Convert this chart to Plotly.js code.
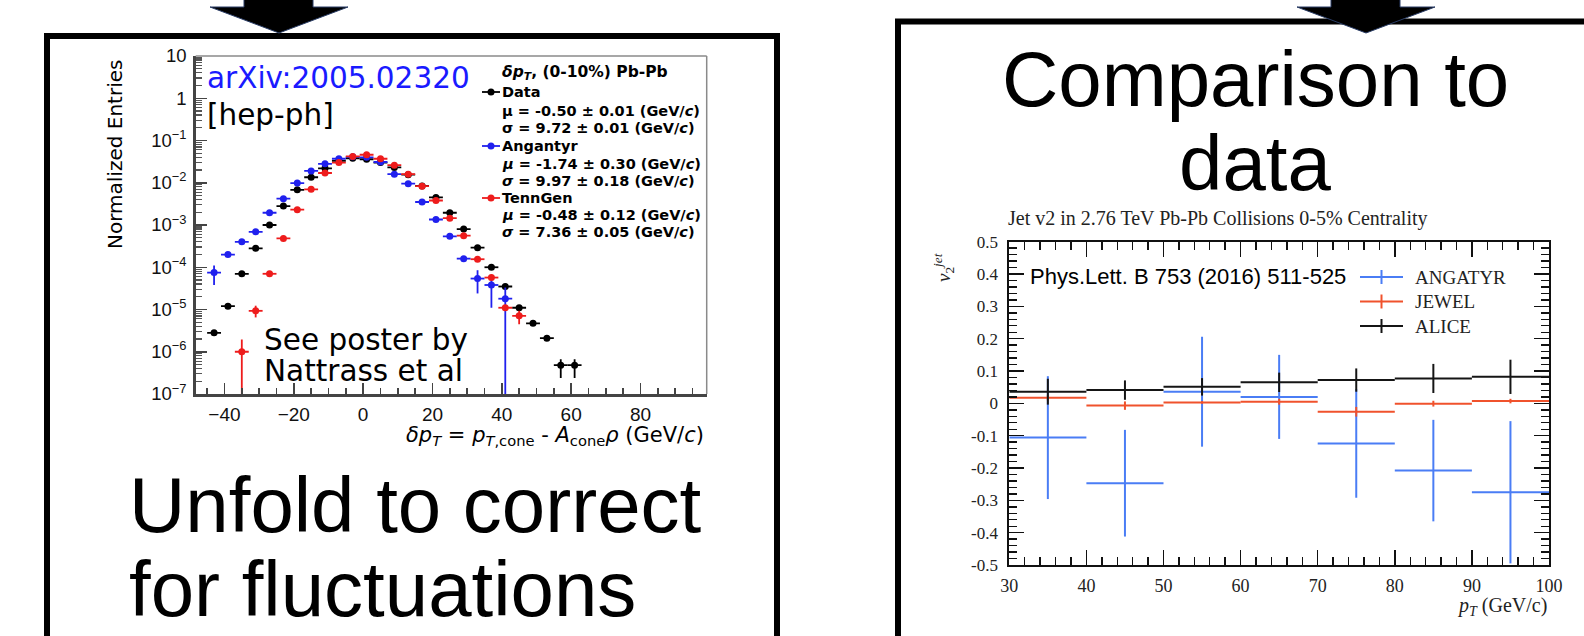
<!DOCTYPE html>
<html><head><meta charset="utf-8">
<script src="https://cdn.plot.ly/plotly-3.0.1.min.js"></script>
<style>html,body{margin:0;padding:0;background:#fff;}#chart{width:1584px;height:636px;}</style>
</head><body><div id="chart"></div>
<script>
// ---------- Left panel: delta pT distributions (bin centres, GeV/c) ----------
const dataX = [-43,-39,-35,-31,-27,-23,-19,-15,-11,-7,-3,1,5,9,13,17,21,25,29,33,37,41,45,49,53,57,61];
const dataY = [2.8e-6,1.2e-5,7.0e-5,2.8e-4,1.0e-3,2.8e-3,6.8e-3,1.35e-2,2.2e-2,3.3e-2,3.8e-2,3.6e-2,3.0e-2,2.3e-2,1.55e-2,8.4e-3,4.5e-3,1.95e-3,8.0e-4,2.9e-4,1.0e-4,3.5e-5,1.1e-5,4.7e-6,2.1e-6,4.8e-7,4.8e-7];
const dataErrUp = [3e-7,1.5e-6,0,0,0,0,0,0,0,0,0,0,0,0,0,0,0,0,0,0,0,0,0,0,0,1.8e-7,1.8e-7];
const dataErrDn = [3e-7,1.5e-6,0,0,0,0,0,0,0,0,0,0,0,0,0,0,0,0,0,0,0,0,0,0,0,2.4e-7,2.4e-7];

const angX = [-43,-39,-35,-31,-27,-23,-19,-15,-11,-7,-3,1,5,9,13,17,21,25,29,33,37,41];
const angY = [7.5e-5,2.0e-4,4.0e-4,6.9e-4,1.95e-3,4.2e-3,9.8e-3,1.9e-2,2.8e-2,3.7e-2,4.1e-2,4.0e-2,3.1e-2,1.6e-2,9.5e-3,3.5e-3,1.35e-3,5.4e-4,1.6e-4,5.4e-5,3.8e-5,1.8e-5];
const angErrUp = [3.5e-5,2.0e-5,0,0,0,0,0,0,0,0,0,0,0,0,0,0,0,0,1.5e-5,3.1e-5,2.0e-5,1.5e-5];
const angErrDn = [3.7e-5,1.8e-5,0,0,0,0,0,0,0,0,0,0,0,0,0,0,0,0,1.3e-5,3.0e-5,2.7e-5,1.8e-5];

const tenX = [-35,-31,-27,-23,-19,-15,-11,-7,-3,1,5,9,13,17,21,25,29,33,37,41,45];
const tenY = [1.0e-6,9.3e-6,7.0e-5,4.8e-4,2.3e-3,7.0e-3,1.7e-2,3.0e-2,4.2e-2,4.6e-2,3.7e-2,2.6e-2,1.6e-2,8.3e-3,3.8e-3,1.45e-3,5.6e-4,1.55e-4,5.7e-5,1.1e-5,7.1e-6];
const tenErrUp = [9.5e-7,3.0e-6,0,0,0,0,0,0,0,0,0,0,0,0,0,0,0,0,0,0,2.2e-6];
const tenErrDn = [1.0e-6,2.8e-6,0,0,0,0,0,0,0,0,0,0,0,0,0,0,0,0,0,0,2.6e-6];

const leftXTicks = [-40,-20,0,20,40,60,80];
const leftXTickText = ['\u221240','\u221220','0','20','40','60','80'];
const leftYTicks = [1e-7,1e-6,1e-5,1e-4,1e-3,1e-2,1e-1,1,10];
const leftYTickText = ['10<sup>\u22127</sup>','10<sup>\u22126</sup>','10<sup>\u22125</sup>','10<sup>\u22124</sup>','10<sup>\u22123</sup>','10<sup>\u22122</sup>','10<sup>\u22121</sup>','1','10'];

// ---------- Right panel: jet v2 vs pT ----------
const ptCenters = [35,45,55,65,75,85,95];
const angatyrV2 = [-0.106,-0.247,0.036,0.020,-0.124,-0.208,-0.275];
const angatyrErr = [0.19,0.165,0.17,0.13,0.168,0.157,0.22];
const jewelV2 = [0.017,-0.007,0.003,0.005,-0.026,-0.001,0.007];
const jewelErr = [0.008,0.013,0.004,0.009,0.015,0.009,0.007];
const aliceV2 = [0.036,0.041,0.051,0.065,0.072,0.077,0.082];
const aliceErr = [0.040,0.030,0.027,0.030,0.036,0.045,0.053];

const rightXTicks = [30,40,50,60,70,80,90,100];
const rightXTickText = ['30','40','50','60','70','80','90','100'];
const rightYTicks = [-0.5,-0.4,-0.3,-0.2,-0.1,0,0.1,0.2,0.3,0.4,0.5];
const rightYTickText = ['-0.5','-0.4','-0.3','-0.2','-0.1','0','0.1','0.2','0.3','0.4','0.5'];

// ---------- geometry helpers (pixels of the 1584x636 canvas) ----------
const W = 1584, H = 636;
const px = v => v / W;
const py = v => 1 - v / H;

const SANS = 'Liberation Sans, Arial, sans-serif';
const WIDE = 'DejaVu Sans, Verdana, sans-serif';
const SERIF = 'Liberation Serif, Times New Roman, serif';

function rootSeries(x, y, up, dn, color) {
  return {
    type: 'scatter', mode: 'markers', x: x, y: y, xaxis: 'x', yaxis: 'y',
    marker: {color: color, size: 7},
    error_x: {type: 'constant', value: 2, width: 0, thickness: 1.8, color: color},
    error_y: {type: 'data', symmetric: false, array: up, arrayminus: dn, width: 0, thickness: 1.8, color: color},
    hoverinfo: 'x+y', cliponaxis: true
  };
}
function v2Series(y, err, color) {
  return {
    type: 'scatter', mode: 'markers', x: ptCenters, y: y, xaxis: 'x2', yaxis: 'y2',
    marker: {color: color, size: 0.1},
    error_x: {type: 'constant', value: 5, width: 0, thickness: 2, color: color},
    error_y: {type: 'data', array: err, width: 0, thickness: 2, color: color},
    hoverinfo: 'x+y'
  };
}

const BLUE_R = '#2020ee', RED_R = '#ee1c1c';
const BLUE_V = '#4a7df5', RED_V = '#f0522c', BLACK_V = '#151515';

const traces = [
  rootSeries(dataX, dataY, dataErrUp, dataErrDn, '#000000'),
  rootSeries(angX, angY, angErrUp, angErrDn, BLUE_R),
  rootSeries(tenX, tenY, tenErrUp, tenErrDn, RED_R),
  v2Series(angatyrV2, angatyrErr, BLUE_V),
  v2Series(jewelV2, jewelErr, RED_V),
  v2Series(aliceV2, aliceErr, BLACK_V),
  {type: 'scatter', x: [], y: [], xaxis: 'x3', yaxis: 'y3', hoverinfo: 'skip'}
];

// minor log ticks
const logMinor = [];
for (let e = -7; e < 1; e++) for (let k = 2; k <= 9; k++) logMinor.push(k * Math.pow(10, e));

const shapes = [];
const annotations = [];
function ann(x, y, text, size, opts) {
  annotations.push(Object.assign({
    xref: 'x3', yref: 'y3', x: x, y: y, text: text, showarrow: false,
    xanchor: 'left', yanchor: 'middle',
    font: {family: SANS, size: size, color: '#000'}
  }, opts || {}));
}
function line(x0, y0, x1, y1, color, w) {
  shapes.push({type: 'line', xref: 'x3', yref: 'y3', x0: x0, y0: y0, x1: x1, y1: y1, line: {color: color, width: w}});
}

// ---- slide boxes ----
shapes.push({type: 'rect', xref: 'x3', yref: 'y3', x0: 47, y0: 36, x1: 777, y1: 720, line: {color: '#000', width: 6}, fillcolor: 'rgba(0,0,0,0)'});
shapes.push({type: 'rect', xref: 'x3', yref: 'y3', x0: 898, y0: 21.5, x1: 1700, y1: 720, line: {color: '#000', width: 6}, fillcolor: 'rgba(0,0,0,0)'});
// ---- arrows ----
function arrow(cx) {
  const p = `M ${cx-35} -5 L ${cx+34} -5 L ${cx+34} 7 L ${cx+69} 7 L ${cx} 33 L ${cx-69} 7 L ${cx-35} 7 Z`;
  shapes.push({type: 'path', xref: 'x3', yref: 'y3', path: p, fillcolor: '#000', line: {color: '#2a3d66', width: 1}});
}
arrow(279);
arrow(1366);

// ---- left panel frame (top/right thin grey) ----
line(195.7, 56, 706.7, 56, '#8a8a8a', 1.5);
line(706.7, 56, 706.7, 394, '#8a8a8a', 1.5);

// ---- left panel texts ----
const wide = (s, c) => ({font: {family: WIDE, size: s, color: c || '#000'}});
ann(115, 155, 'Normalized Entries', 20, Object.assign({textangle: -90, xanchor: 'center'}, wide(20)));
ann(205, 78, 'arXiv:2005.02320', 29.5, wide(29.5, '#1a1aff'));
ann(205, 115, '[hep-ph]', 29.5, wide(29.5));
ann(262, 340, 'See poster by', 29.5, wide(29.5));
ann(262, 371, 'Nattrass et al', 29.5, wide(29.5));
ann(706, 436, '<i>δp</i><sub><i>T</i></sub> = <i>p</i><sub><i>T</i>,cone</sub> - <i>A</i><sub>cone</sub><i>ρ</i> (GeV/<i>c</i>)', 21, Object.assign({xanchor: 'right'}, wide(21)));

const LX = 500, LF = 14.5;
ann(LX, 73, '<b><i>δp</i><sub><i>T</i></sub>, (0-10%) Pb-Pb</b>', 15.5, wide(15.5));
ann(LX, 92, '<b>Data</b>', LF, wide(LF));
ann(LX, 111, '<b>μ = -0.50 ± 0.01 (GeV/<i>c</i>)</b>', LF, wide(LF));
ann(LX, 128, '<b>σ = 9.72 ± 0.01 (GeV/<i>c</i>)</b>', LF, wide(LF));
ann(LX, 146, '<b>Angantyr</b>', LF, wide(LF));
ann(LX, 164, '<b><i>μ</i> = -1.74 ± 0.30 (GeV/<i>c</i>)</b>', LF, wide(LF));
ann(LX, 181, '<b><i>σ</i> = 9.97 ± 0.18 (GeV/<i>c</i>)</b>', LF, wide(LF));
ann(LX, 198, '<b>TennGen</b>', LF, wide(LF));
ann(LX, 215, '<b><i>μ</i> = -0.48 ± 0.12 (GeV/<i>c</i>)</b>', LF, wide(LF));
ann(LX, 232, '<b><i>σ</i> = 7.36 ± 0.05 (GeV/<i>c</i>)</b>', LF, wide(LF));
[[92, '#000'], [146, BLUE_R], [198, RED_R]].forEach(([yy, c]) => {
  line(482, yy, 500, yy, c, 1.8);
  shapes.push({type: 'circle', xref: 'x3', yref: 'y3', x0: 487.5, x1: 494.5, y0: yy - 3.5, y1: yy + 3.5, fillcolor: c, line: {color: c, width: 0}});
});

// ---- big slide texts ----
ann(127, 505, 'Unfold to correct', 78);
ann(127, 589, 'for fluctuations', 78);
ann(1255, 79, 'Comparison to', 78, {xanchor: 'center'});
ann(1255, 163, 'data', 78, {xanchor: 'center'});

// ---- right panel texts ----
const serif = (s) => ({font: {family: SERIF, size: s, color: '#222'}});
ann(1006, 218, 'Jet v2 in 2.76 TeV Pb-Pb Collisions 0-5% Centrality', 20, serif(20));
ann(943, 268, '<i>v</i><sub>2</sub><sup><i>jet</i></sup>', 19, Object.assign({textangle: -90, xanchor: 'center'}, serif(19)));
ann(1549, 606, '<i>p</i><sub><i>T</i></sub> (GeV/c)', 20, Object.assign({xanchor: 'right'}, serif(20)));
ann(1028, 276, 'Phys.Lett. B 753 (2016) 511-525', 22);
[[277, 'ANGATYR', BLUE_V], [301.5, 'JEWEL', RED_V], [326, 'ALICE', BLACK_V]].forEach(([yy, t, c]) => {
  line(1360, yy, 1403, yy, c, 2);
  line(1381.5, yy - 7, 1381.5, yy + 7, c, 2);
  ann(1413, yy, t, 19, serif(19));
});

const layout = {
  width: W, height: H, margin: {l: 0, r: 0, t: 0, b: 0},
  paper_bgcolor: '#ffffff', plot_bgcolor: 'rgba(0,0,0,0)', showlegend: false,
  xaxis: {
    domain: [px(195.7), px(706.7)], range: [-48.3, 99.1], anchor: 'y',
    tickmode: 'array', tickvals: leftXTicks, ticktext: leftXTickText,
    ticks: 'inside', ticklen: 11, tickwidth: 1.5, tickcolor: '#444',
    minor: {tickmode: 'linear', tick0: 0, dtick: 5, ticks: 'inside', ticklen: 6, tickwidth: 1.5, tickcolor: '#444'},
    showline: true, linecolor: '#444', linewidth: 2.5, showgrid: false, zeroline: false,
    tickfont: {family: SANS, size: 19, color: '#111'}, ticklabelstandoff: 2, fixedrange: true
  },
  yaxis: {
    type: 'log', domain: [py(394), py(56)], range: [-7, 1], anchor: 'x',
    tickmode: 'array', tickvals: leftYTicks, ticktext: leftYTickText,
    ticks: 'inside', ticklen: 11, tickwidth: 1.5, tickcolor: '#444',
    minor: {tickmode: 'array', tickvals: logMinor, ticks: 'inside', ticklen: 6, tickwidth: 1.2, tickcolor: '#555'},
    showline: true, linecolor: '#444', linewidth: 2.5, showgrid: false, zeroline: false,
    tickfont: {family: SANS, size: 18.5, color: '#111'}, ticklabelstandoff: 3, fixedrange: true
  },
  xaxis2: {
    domain: [px(1009.3), px(1549)], range: [30, 100], anchor: 'y2',
    tickmode: 'array', tickvals: rightXTicks, ticktext: rightXTickText,
    ticks: 'inside', ticklen: 15, tickwidth: 1.6, tickcolor: '#111',
    minor: {tickmode: 'linear', tick0: 30, dtick: 2, ticks: 'inside', ticklen: 8, tickwidth: 1.4, tickcolor: '#111'},
    showline: true, mirror: 'ticks', linecolor: '#111', linewidth: 2, showgrid: false, zeroline: false,
    tickfont: {family: SERIF, size: 18, color: '#222'}, ticklabelstandoff: 3, fixedrange: true
  },
  yaxis2: {
    domain: [py(565), py(241.7)], range: [-0.5, 0.5], anchor: 'x2',
    tickmode: 'array', tickvals: rightYTicks, ticktext: rightYTickText,
    ticks: 'inside', ticklen: 15, tickwidth: 1.6, tickcolor: '#111',
    minor: {tickmode: 'linear', tick0: 0, dtick: 0.02, ticks: 'inside', ticklen: 8, tickwidth: 1.4, tickcolor: '#111'},
    showline: true, mirror: 'ticks', linecolor: '#111', linewidth: 2, showgrid: false, zeroline: false,
    tickfont: {family: SERIF, size: 17, color: '#222'}, ticklabelstandoff: 6, fixedrange: true
  },
  xaxis3: {domain: [0, 1], range: [0, W], anchor: 'y3', visible: false, fixedrange: true},
  yaxis3: {domain: [0, 1], range: [H, 0], anchor: 'x3', visible: false, fixedrange: true},
  shapes: shapes,
  annotations: annotations
};

Plotly.newPlot('chart', traces, layout, {staticPlot: true, displayModeBar: false});
</script>
</body></html>
